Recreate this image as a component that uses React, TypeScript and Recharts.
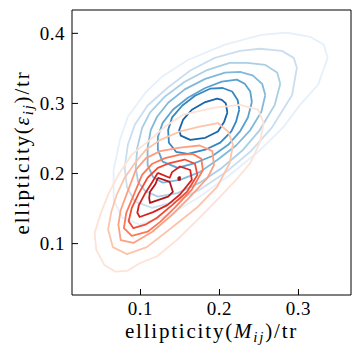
import React from 'react';
import { ScatterChart, Scatter, XAxis, YAxis } from 'recharts';

type Pt = [number, number];

const xTicks = [0.1, 0.2, 0.3];
const yTicks = [0.1, 0.2, 0.3, 0.4];
const xDomain: [number, number] = [0.0133, 0.3665];
const yDomain: [number, number] = [0.0267, 0.4333];

// blue density contours, outermost first
const blue1: Pt[] = [[0.337,0.365],[0.332,0.384],[0.315,0.395],[0.285,0.401],[0.254,0.398],[0.207,0.384],[0.160,0.362],[0.127,0.338],[0.106,0.315],[0.084,0.281],[0.074,0.248],[0.066,0.205],[0.066,0.162],[0.077,0.137],[0.099,0.127],[0.137,0.141],[0.175,0.167],[0.213,0.198],[0.249,0.231],[0.280,0.265],[0.302,0.298],[0.325,0.327]];
const blue2: Pt[] = [[0.298,0.351],[0.294,0.365],[0.279,0.375],[0.251,0.378],[0.226,0.375],[0.194,0.365],[0.163,0.347],[0.134,0.322],[0.109,0.297],[0.093,0.270],[0.084,0.241],[0.080,0.208],[0.083,0.180],[0.093,0.160],[0.115,0.151],[0.144,0.160],[0.175,0.177],[0.207,0.201],[0.239,0.231],[0.266,0.265],[0.292,0.312]];
const blue3: Pt[] = [[0.277,0.328],[0.273,0.344],[0.258,0.355],[0.235,0.358],[0.213,0.358],[0.185,0.348],[0.156,0.331],[0.131,0.310],[0.112,0.287],[0.102,0.265],[0.096,0.237],[0.094,0.208],[0.097,0.188],[0.106,0.175],[0.122,0.167],[0.147,0.172],[0.175,0.187],[0.203,0.208],[0.230,0.234],[0.251,0.262],[0.270,0.298]];
const blue4: Pt[] = [[0.258,0.312],[0.254,0.328],[0.242,0.340],[0.226,0.345],[0.207,0.344],[0.182,0.335],[0.156,0.320],[0.135,0.301],[0.121,0.281],[0.113,0.262],[0.109,0.237],[0.109,0.212],[0.116,0.195],[0.128,0.187],[0.150,0.191],[0.175,0.202],[0.198,0.220],[0.221,0.240],[0.239,0.262],[0.253,0.288]];
const blue5: Pt[] = [[0.241,0.302],[0.239,0.317],[0.232,0.328],[0.222,0.334],[0.203,0.331],[0.182,0.322],[0.160,0.308],[0.141,0.291],[0.128,0.272],[0.122,0.252],[0.122,0.234],[0.128,0.217],[0.147,0.208],[0.169,0.215],[0.191,0.225],[0.211,0.241],[0.226,0.260],[0.236,0.280]];
const blue6: Pt[] = [[0.225,0.291],[0.223,0.305],[0.216,0.317],[0.204,0.322],[0.188,0.321],[0.169,0.311],[0.153,0.297],[0.140,0.280],[0.135,0.262],[0.136,0.244],[0.145,0.231],[0.160,0.228],[0.182,0.234],[0.201,0.244],[0.215,0.260],[0.221,0.274]];
const blue7: Pt[] = [[0.210,0.287],[0.208,0.300],[0.203,0.305],[0.197,0.307],[0.182,0.302],[0.165,0.291],[0.154,0.277],[0.149,0.262],[0.151,0.254],[0.163,0.248],[0.182,0.251],[0.198,0.260],[0.206,0.274]];

// red density contours, outermost first
const red1: Pt[] = [[0.154,0.284],[0.194,0.294],[0.226,0.298],[0.249,0.291],[0.256,0.272],[0.251,0.244],[0.239,0.215],[0.221,0.191],[0.201,0.167],[0.175,0.137],[0.146,0.105],[0.121,0.082],[0.099,0.072],[0.083,0.061],[0.068,0.060],[0.054,0.070],[0.044,0.091],[0.042,0.115],[0.049,0.141],[0.059,0.170],[0.072,0.198],[0.089,0.227],[0.112,0.248],[0.131,0.267]];
const red2: Pt[] = [[0.125,0.248],[0.150,0.260],[0.175,0.267],[0.198,0.272],[0.211,0.260],[0.217,0.241],[0.213,0.215],[0.197,0.181],[0.172,0.152],[0.141,0.124],[0.108,0.095],[0.083,0.085],[0.065,0.095],[0.059,0.120],[0.063,0.145],[0.070,0.170],[0.080,0.194],[0.093,0.215],[0.107,0.234]];
const red3: Pt[] = [[0.094,0.205],[0.107,0.222],[0.125,0.232],[0.150,0.237],[0.175,0.240],[0.191,0.232],[0.193,0.212],[0.185,0.194],[0.163,0.167],[0.140,0.141],[0.115,0.117],[0.091,0.101],[0.075,0.105],[0.072,0.127],[0.075,0.148],[0.083,0.172]];
const red4: Pt[] = [[0.102,0.198],[0.115,0.214],[0.131,0.222],[0.150,0.227],[0.166,0.228],[0.177,0.221],[0.179,0.205],[0.165,0.177],[0.144,0.152],[0.125,0.131],[0.109,0.117],[0.089,0.111],[0.079,0.122],[0.082,0.144],[0.091,0.168]];
const red5: Pt[] = [[0.109,0.194],[0.122,0.208],[0.137,0.215],[0.156,0.220],[0.169,0.214],[0.172,0.198],[0.159,0.174],[0.140,0.155],[0.121,0.137],[0.106,0.127],[0.091,0.122],[0.085,0.132],[0.089,0.151],[0.098,0.172]];
const red6: Pt[] = [[0.122,0.201],[0.137,0.194],[0.140,0.202],[0.150,0.210],[0.163,0.205],[0.165,0.191],[0.150,0.170],[0.134,0.155],[0.116,0.145],[0.099,0.138],[0.096,0.144],[0.098,0.155],[0.106,0.172],[0.115,0.188]];
const red7: Pt[] = [[0.122,0.194],[0.137,0.188],[0.141,0.174],[0.135,0.167],[0.122,0.162],[0.112,0.158],[0.111,0.165],[0.112,0.174],[0.119,0.185]];
const redPeak: Pt[] = [[0.148,0.195],[0.150,0.195],[0.150,0.191],[0.148,0.191]];

const blueRings = [blue1, blue2, blue3, blue4, blue5, blue6, blue7];
const blueColors = ['#e6f0fa', '#cadef0', '#a9cfe5', '#80b9da', '#5aa2cf', '#3686c0', '#1a64aa'];
const redRings = [red1, red2, red3, red4, red5, red6, red7, redPeak];
const redColors = ['#fee2d5', '#fcc4aa', '#fca083', '#fb7959', '#f14b36', '#d42221', '#b41319', '#a50f15'];

const FONT = "'Liberation Serif', 'DejaVu Serif', serif";
const TICK_FS = 19;
const LABEL_FS = 21;

const closeRing = (pts: Pt[]) => [...pts, pts[0]].map(([x, y]) => ({ x, y }));
const noDot = () => <g />;

const XTick = ({ x, y, payload }: any) => (
  <text x={x} y={y + 13} textAnchor="middle" style={{ fontFamily: FONT }} fontSize={TICK_FS} letterSpacing={0.5} fill="#000">
    {payload.value}
  </text>
);

const YTick = ({ x, y, payload }: any) => (
  <text x={x} y={y + 6.5} textAnchor="end" style={{ fontFamily: FONT }} fontSize={TICK_FS} letterSpacing={0.5} fill="#000">
    {payload.value}
  </text>
);

const XLabel = (props: any) => {
  const { x, y, width } = props.viewBox;
  return (
    <text x={x + width / 2} y={y + 43} textAnchor="middle" style={{ fontFamily: FONT }} fontSize={LABEL_FS} letterSpacing={1.8} fill="#000">
      ellipticity(<tspan fontStyle="italic">M</tspan>
      <tspan fontStyle="italic" fontSize={15} dy={4}>ij</tspan>
      <tspan dy={-4}>)/tr</tspan>
    </text>
  );
};

const YLabel = (props: any) => {
  const { x, y, height } = props.viewBox;
  const cx = x - 3;
  const cy = y + height / 2;
  return (
    <text x={cx} y={cy} transform={`rotate(-90, ${cx}, ${cy})`} textAnchor="middle" style={{ fontFamily: FONT }} fontSize={LABEL_FS} letterSpacing={1.8} fill="#000">
      ellipticity(<tspan fontStyle="italic">ε</tspan>
      <tspan fontStyle="italic" fontSize={15} dy={4}>ij</tspan>
      <tspan dy={-4}>)/tr</tspan>
    </text>
  );
};

export default function App() {
  return (
    <div style={{ position: 'absolute', left: 0, top: 0, background: '#fff' }}>
      <ScatterChart width={360} height={360} margin={{ top: 9, right: 8, bottom: 25, left: 32 }}>
        <XAxis
          type="number" dataKey="x" domain={xDomain} ticks={xTicks} allowDataOverflow interval={0}
          height={40} stroke="#000" tickSize={-6} tickMargin={13}
          tick={<XTick />} tickLine={{ stroke: '#000' }}
          label={{ content: XLabel }}
        />
        <XAxis
          xAxisId="top" orientation="top" type="number" dataKey="x" domain={xDomain} ticks={xTicks}
          allowDataOverflow interval={0} height={1} stroke="#000" tickSize={-6} tick={false}
          tickLine={{ stroke: '#000' }}
        />
        <YAxis
          type="number" dataKey="y" domain={yDomain} ticks={yTicks} allowDataOverflow interval={0}
          width={40} stroke="#000" tickSize={-6} tickMargin={13}
          tick={<YTick />} tickLine={{ stroke: '#000' }}
          label={{ content: YLabel }}
        />
        <YAxis
          yAxisId="right" orientation="right" type="number" dataKey="y" domain={yDomain} ticks={yTicks}
          allowDataOverflow interval={0} width={1} stroke="#000" tickSize={-6} tick={false}
          tickLine={{ stroke: '#000' }}
        />
        {/* invisible series so the mirrored top/right axes get drawn */}
        <Scatter
          xAxisId="top" yAxisId="right" data={closeRing(blue7)} shape={noDot}
          isAnimationActive={false} legendType="none"
        />
        {blueRings.map((ring, i) => (
          <Scatter
            key={`b${i}`} data={closeRing(ring)} shape={noDot} isAnimationActive={false}
            line={{ stroke: blueColors[i], strokeWidth: 1.8, strokeLinejoin: 'round' }}
          />
        ))}
        {redRings.map((ring, i) => (
          <Scatter
            key={`r${i}`} data={closeRing(ring)} shape={noDot} isAnimationActive={false}
            line={{ stroke: redColors[i], strokeWidth: 1.8, strokeLinejoin: 'round' }}
          />
        ))}
      </ScatterChart>
    </div>
  );
}
